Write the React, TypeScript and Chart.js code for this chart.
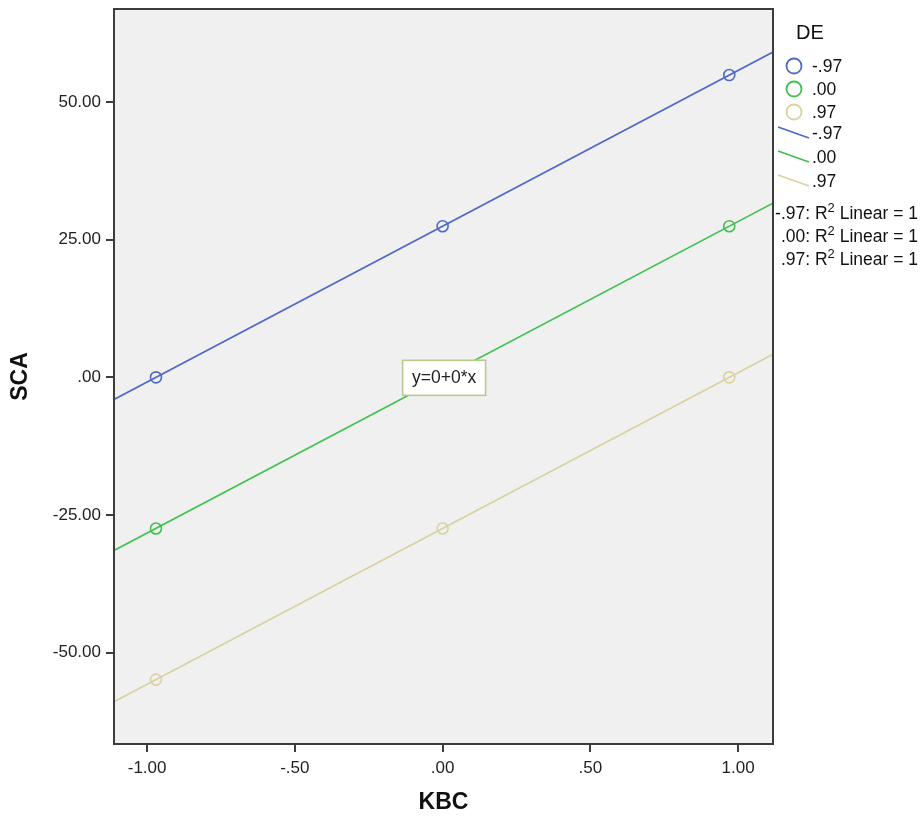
import React, { useEffect, useRef } from "react";
import { Chart, registerables } from "chart.js";

Chart.register(...registerables);

const KBC = [-0.97, 0, 0.97];
const SCA_DE_NEG97 = [0, 27.45, 54.9];
const SCA_DE_000 = [-27.45, 0, 27.45];
const SCA_DE_POS97 = [-54.9, -27.45, 0];
const DE_LABELS = ["-.97", ".00", ".97"];
const COLORS = ["#4f69c6", "#3fc04f", "#d8d3a0"];
const X_TICKS = [-1, -0.5, 0, 0.5, 1];
const X_TICK_LABELS = ["-1.00", "-.50", ".00", ".50", "1.00"];
const Y_TICKS = [-50, -25, 0, 25, 50];
const Y_TICK_LABELS = ["-50.00", "-25.00", ".00", "25.00", "50.00"];
const X_MIN = -1.112;
const X_MAX = 1.118;
const Y_MIN = -66.6;
const Y_MAX = 66.9;
const R2_LABELS = ["-.97: R", ".00: R", ".97: R"];
const ANNOTATION = "y=0+0*x";

const FONT = '"Liberation Sans", Arial, sans-serif';

function fitLine(xs: number[], ys: number[]) {
  const n = xs.length;
  const mx = xs.reduce((a, b) => a + b, 0) / n;
  const my = ys.reduce((a, b) => a + b, 0) / n;
  let sxy = 0, sxx = 0;
  for (let i = 0; i < n; i++) {
    sxy += (xs[i] - mx) * (ys[i] - my);
    sxx += (xs[i] - mx) * (xs[i] - mx);
  }
  const b = sxy / sxx;
  const a = my - b * mx;
  return [
    { x: X_MIN, y: a + b * X_MIN },
    { x: X_MAX, y: a + b * X_MAX },
  ];
}

export default function App() {
  const ref = useRef<HTMLCanvasElement>(null);

  useEffect(() => {
    document.body.style.margin = "0";
    const series = [SCA_DE_NEG97, SCA_DE_000, SCA_DE_POS97];

    const pointSets = series.map((s, i) => ({
      type: "scatter" as const,
      label: DE_LABELS[i],
      data: KBC.map((x, j) => ({ x, y: s[j] })),
      borderColor: COLORS[i],
      backgroundColor: "rgba(0,0,0,0)",
      pointRadius: 5.5,
      pointBorderWidth: 1.6,
      showLine: false,
    }));
    const lineSets = series.map((s, i) => ({
      type: "line" as const,
      label: DE_LABELS[i] + " fit",
      data: fitLine(KBC, s),
      borderColor: COLORS[i],
      borderWidth: 1.7,
      pointRadius: 0,
      fill: false,
    }));

    const decor = {
      id: "decor",
      beforeDraw(chart: any) {
        const { ctx, chartArea: a } = chart;
        ctx.save();
        ctx.fillStyle = "#ffffff";
        ctx.fillRect(0, 0, chart.width, chart.height);
        ctx.fillStyle = "#f0f0f0";
        ctx.fillRect(a.left, a.top, a.right - a.left, a.bottom - a.top);
        ctx.restore();
      },
      afterDatasetsDraw(chart: any) {
        const { ctx, chartArea: a, scales } = chart;
        ctx.save();
        // annotation box
        const cx = scales.x.getPixelForValue(0);
        const cy = scales.y.getPixelForValue(0);
        ctx.font = `17.5px ${FONT}`;
        const w = 83, h = 35;
        ctx.fillStyle = "#ffffff";
        ctx.fillRect(cx - 40, cy - 17, w, h);
        ctx.strokeStyle = "#b9ca90";
        ctx.lineWidth = 1.6;
        ctx.strokeRect(cx - 40, cy - 17, w, h);
        ctx.fillStyle = "#222";
        ctx.textAlign = "center";
        ctx.textBaseline = "middle";
        ctx.fillText(ANNOTATION, cx + 1.5, cy + 1);

        // frame
        ctx.strokeStyle = "#3c3c3c";
        ctx.lineWidth = 2;
        ctx.strokeRect(a.left, a.top, a.right - a.left, a.bottom - a.top);

        // axis titles
        ctx.fillStyle = "#111";
        ctx.font = `bold 23px ${FONT}`;
        ctx.textAlign = "center";
        ctx.textBaseline = "middle";
        ctx.fillText("KBC", (a.left + a.right) / 2, 803);
        ctx.save();
        ctx.translate(21, (a.top + a.bottom) / 2);
        ctx.rotate(-Math.PI / 2);
        ctx.fillText("SCA", 0, 0);
        ctx.restore();

        // legend
        ctx.textAlign = "left";
        ctx.font = `20px ${FONT}`;
        ctx.fillStyle = "#111";
        ctx.fillText("DE", 796, 33);
        ctx.font = `17.5px ${FONT}`;
        const circY = [66, 89, 112];
        for (let i = 0; i < 3; i++) {
          ctx.beginPath();
          ctx.strokeStyle = COLORS[i];
          ctx.lineWidth = 1.8;
          ctx.arc(794, circY[i], 7.5, 0, Math.PI * 2);
          ctx.stroke();
          ctx.fillStyle = "#111";
          ctx.fillText(DE_LABELS[i], 812, circY[i] + 1);
        }
        const lineY = [133, 157, 181];
        for (let i = 0; i < 3; i++) {
          ctx.beginPath();
          ctx.strokeStyle = COLORS[i];
          ctx.lineWidth = 1.8;
          ctx.moveTo(778, lineY[i] - 6);
          ctx.lineTo(809, lineY[i] + 5);
          ctx.stroke();
          ctx.fillStyle = "#111";
          ctx.fillText(DE_LABELS[i], 812, lineY[i] + 1);
        }
        // R2 lines, right aligned
        const r2Y = [214, 237, 260];
        const rightX = 918;
        const mainF = `17.5px ${FONT}`;
        const supF = `13px ${FONT}`;
        for (let i = 0; i < 3; i++) {
          ctx.font = mainF;
          const tail = " Linear = 1";
          const tailW = ctx.measureText(tail).width;
          ctx.font = supF;
          const supW = ctx.measureText("2").width;
          ctx.font = mainF;
          const headW = ctx.measureText(R2_LABELS[i]).width;
          let x = rightX - tailW - supW - headW;
          ctx.fillStyle = "#111";
          ctx.textAlign = "left";
          ctx.fillText(R2_LABELS[i], x, r2Y[i]);
          x += headW;
          ctx.font = supF;
          ctx.fillText("2", x, r2Y[i] - 6);
          x += supW;
          ctx.font = mainF;
          ctx.fillText(tail, x, r2Y[i]);
        }
        ctx.restore();
      },
    };

    const chart = new Chart(ref.current as HTMLCanvasElement, {
      type: "scatter",
      data: { datasets: [...lineSets, ...pointSets] as any },
      options: {
        animation: false,
        responsive: false,
        maintainAspectRatio: false,
        layout: { padding: { left: 0, right: 151, top: 9, bottom: 0 } },
        plugins: { legend: { display: false }, tooltip: { enabled: false } },
        scales: {
          x: {
            type: "linear",
            min: X_MIN,
            max: X_MAX,
            afterBuildTicks: (s: any) => {
              s.ticks = X_TICKS.map((v) => ({ value: v }));
            },
            afterFit: (s: any) => {
              s.height = 821 - 744;
              s.paddingLeft = 0;
              s.paddingRight = 0;
            },
            grid: {
              drawOnChartArea: false,
              drawTicks: true,
              tickLength: 8,
              color: "#3c3c3c",
              lineWidth: 2,
            },
            border: { display: false },
            ticks: {
              padding: 6,
              color: "#222",
              font: { family: FONT, size: 17 },
              maxRotation: 0,
              callback: (v: any) => X_TICK_LABELS[X_TICKS.indexOf(Number(v))] ?? "",
            },
          },
          y: {
            type: "linear",
            min: Y_MIN,
            max: Y_MAX,
            afterBuildTicks: (s: any) => {
              s.ticks = Y_TICKS.map((v) => ({ value: v }));
            },
            afterFit: (s: any) => {
              s.width = 114;
              s.paddingTop = 0;
              s.paddingBottom = 0;
            },
            grid: {
              drawOnChartArea: false,
              drawTicks: true,
              tickLength: 8,
              color: "#3c3c3c",
              lineWidth: 2,
            },
            border: { display: false },
            ticks: {
              padding: 5,
              color: "#222",
              font: { family: FONT, size: 17 },
              callback: (v: any) => Y_TICK_LABELS[Y_TICKS.indexOf(Number(v))] ?? "",
            },
          },
        },
      },
      plugins: [decor],
    });
    return () => chart.destroy();
  }, []);

  return (
    <div style={{ position: "fixed", left: 0, top: 0, width: 924, height: 821 }}>
      <canvas ref={ref} width={924} height={821} style={{ width: 924, height: 821 }} />
    </div>
  );
}
